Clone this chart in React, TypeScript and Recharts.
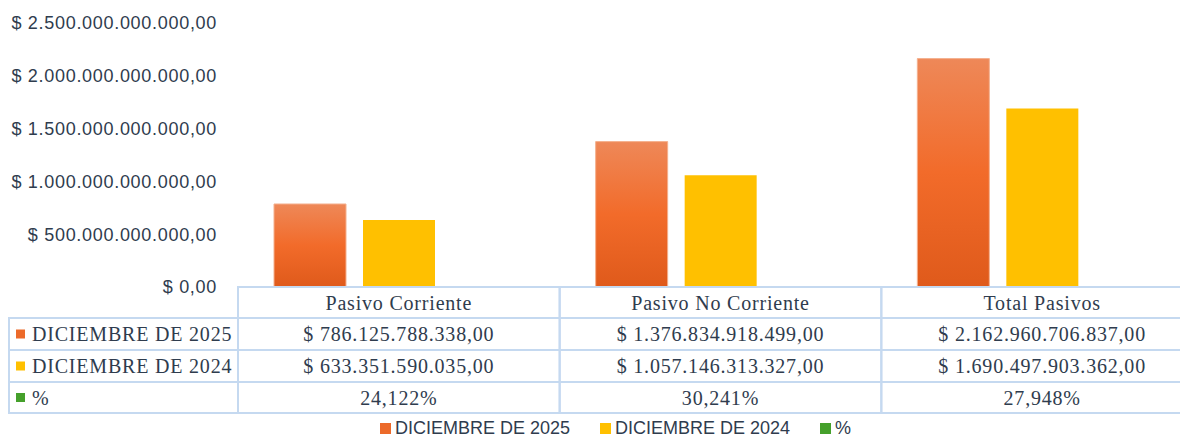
import React from 'react';
import { BarChart, Bar, XAxis, YAxis, Legend } from 'recharts';

const categories = ['Pasivo Corriente', 'Pasivo No Corriente', 'Total Pasivos'];
const dic2025 = [786125788338, 1376834918499, 2162960706837];
const dic2024 = [633351590035, 1057146313327, 1690497903362];
const pct = [24.122, 30.241, 27.948];
const seriesNames = ['DICIEMBRE DE 2025', 'DICIEMBRE DE 2024', '%'];
const yTicks = [0, 500000000000, 1000000000000, 1500000000000, 2000000000000, 2500000000000];

const data = categories.map((name, i) => ({ name, d2025: dic2025[i], d2024: dic2024[i], pct: pct[i] }));

const CHART_W = 1180;
const CHART_H = 432;
const MARGIN = { top: 15, right: -15, bottom: 0, left: 0 };
const Y_W = 230;
const PLOT_W = CHART_W - MARGIN.left - MARGIN.right - Y_W;
const LEGEND_H = 26;
const XAXIS_H = 127;

const TEXT = '#2F3C4E';
const BORDER = '#C5D9F0';
const ORANGE = '#EC6A2A';
const YELLOW = '#FFC000';
const GREEN = '#45A02B';
const SERIF = "'Liberation Serif', 'Times New Roman', serif";
const SANS = "'Liberation Sans', Arial, sans-serif";

const groupDigits = (n: number) => Math.round(n).toString().replace(/\B(?=(\d{3})+(?!\d))/g, '.');
const money = (n: number) => `$ ${groupDigits(n)},00`;
const percent = (n: number) => `${n.toFixed(3).replace('.', ',')}%`;

const rowHeights = [31, 32, 32, 31];
const seriesColors = [ORANGE, YELLOW, GREEN];

const TableTick = (props: any) => {
  const { x, y, payload } = props;
  const i = payload.index ?? props.index;
  const colW = PLOT_W / categories.length;
  const left = x - colW / 2;
  const cells = [categories[i], money(dic2025[i]), money(dic2024[i]), percent(pct[i])];
  let cy = y;
  const parts: any[] = [];
  cells.forEach((txt, r) => {
    const h = rowHeights[r];
    parts.push(
      <rect key={'c' + r} x={left} y={cy} width={colW} height={h} fill="none" stroke={BORDER} strokeWidth={2} />
    );
    parts.push(
      <text key={'t' + r} x={x} y={cy + h / 2 + 7} textAnchor="middle" fontFamily={SERIF} fontSize={20} letterSpacing={0.8} fill={TEXT}>
        {txt}
      </text>
    );
    if (i === 0 && r > 0) {
      parts.push(
        <rect key={'l' + r} x={1} y={cy} width={left - 1} height={h} fill="none" stroke={BORDER} strokeWidth={2} />
      );
      parts.push(
        <rect key={'s' + r} x={8} y={cy + h / 2 - 4.5} width={9} height={9} fill={seriesColors[r - 1]} />
      );
      parts.push(
        <text key={'lt' + r} x={24} y={cy + h / 2 + 7} fontFamily={SERIF} fontSize={20} letterSpacing={0.8} fill={TEXT}>
          {seriesNames[r - 1]}
        </text>
      );
    }
    cy += h;
  });
  return <g>{parts}</g>;
};

const LegendContent = () => {
  return (
    <div style={{ height: LEGEND_H, display: 'flex', justifyContent: 'center', alignItems: 'center', paddingLeft: 20, boxSizing: 'border-box', fontFamily: SANS, fontSize: 18, color: TEXT }}>
      {seriesNames.map((name, k) => (
        <div key={k} style={{ display: 'flex', alignItems: 'center', marginRight: k < seriesNames.length - 1 ? 30 : 0, lineHeight: '20px', position: 'relative', top: 1 }}>
          <span style={{ display: 'inline-block', width: 11, height: 11, background: seriesColors[k], marginRight: 4 }} />
          <span>{name}</span>
        </div>
      ))}
    </div>
  );
};

export default function App() {
  return (
    <BarChart width={CHART_W} height={CHART_H} data={data} margin={MARGIN} barCategoryGap={36} barGap={17}>
      <defs>
        <linearGradient id="orangeGrad" x1="0" y1="0" x2="0" y2="1">
          <stop offset="0%" stopColor="#EE8858" />
          <stop offset="50%" stopColor="#F26B2A" />
          <stop offset="100%" stopColor="#DF5A1B" />
        </linearGradient>
      </defs>
      <XAxis dataKey="name" interval={0} axisLine={false} tickLine={false} tickSize={0} tickMargin={0} height={XAXIS_H} tick={<TableTick />} />
      <YAxis
        width={Y_W}
        domain={[0, 2500000000000]}
        ticks={yTicks}
        axisLine={false}
        tickLine={false}
        tickSize={0}
        tickMargin={21}
        tickFormatter={(v: number) => money(v)}
        tick={{ fontFamily: SANS, fontSize: 18, fill: TEXT, letterSpacing: 0.7 }}
      />
      <Legend verticalAlign="bottom" content={<LegendContent />} />
      <Bar dataKey="d2025" name={seriesNames[0]} fill="url(#orangeGrad)" stroke="#F4B08E" strokeWidth={1} isAnimationActive={false} />
      <Bar dataKey="d2024" name={seriesNames[1]} fill={YELLOW} isAnimationActive={false} />
      <Bar dataKey="pct" name={seriesNames[2]} fill={GREEN} isAnimationActive={false} />
    </BarChart>
  );
}
